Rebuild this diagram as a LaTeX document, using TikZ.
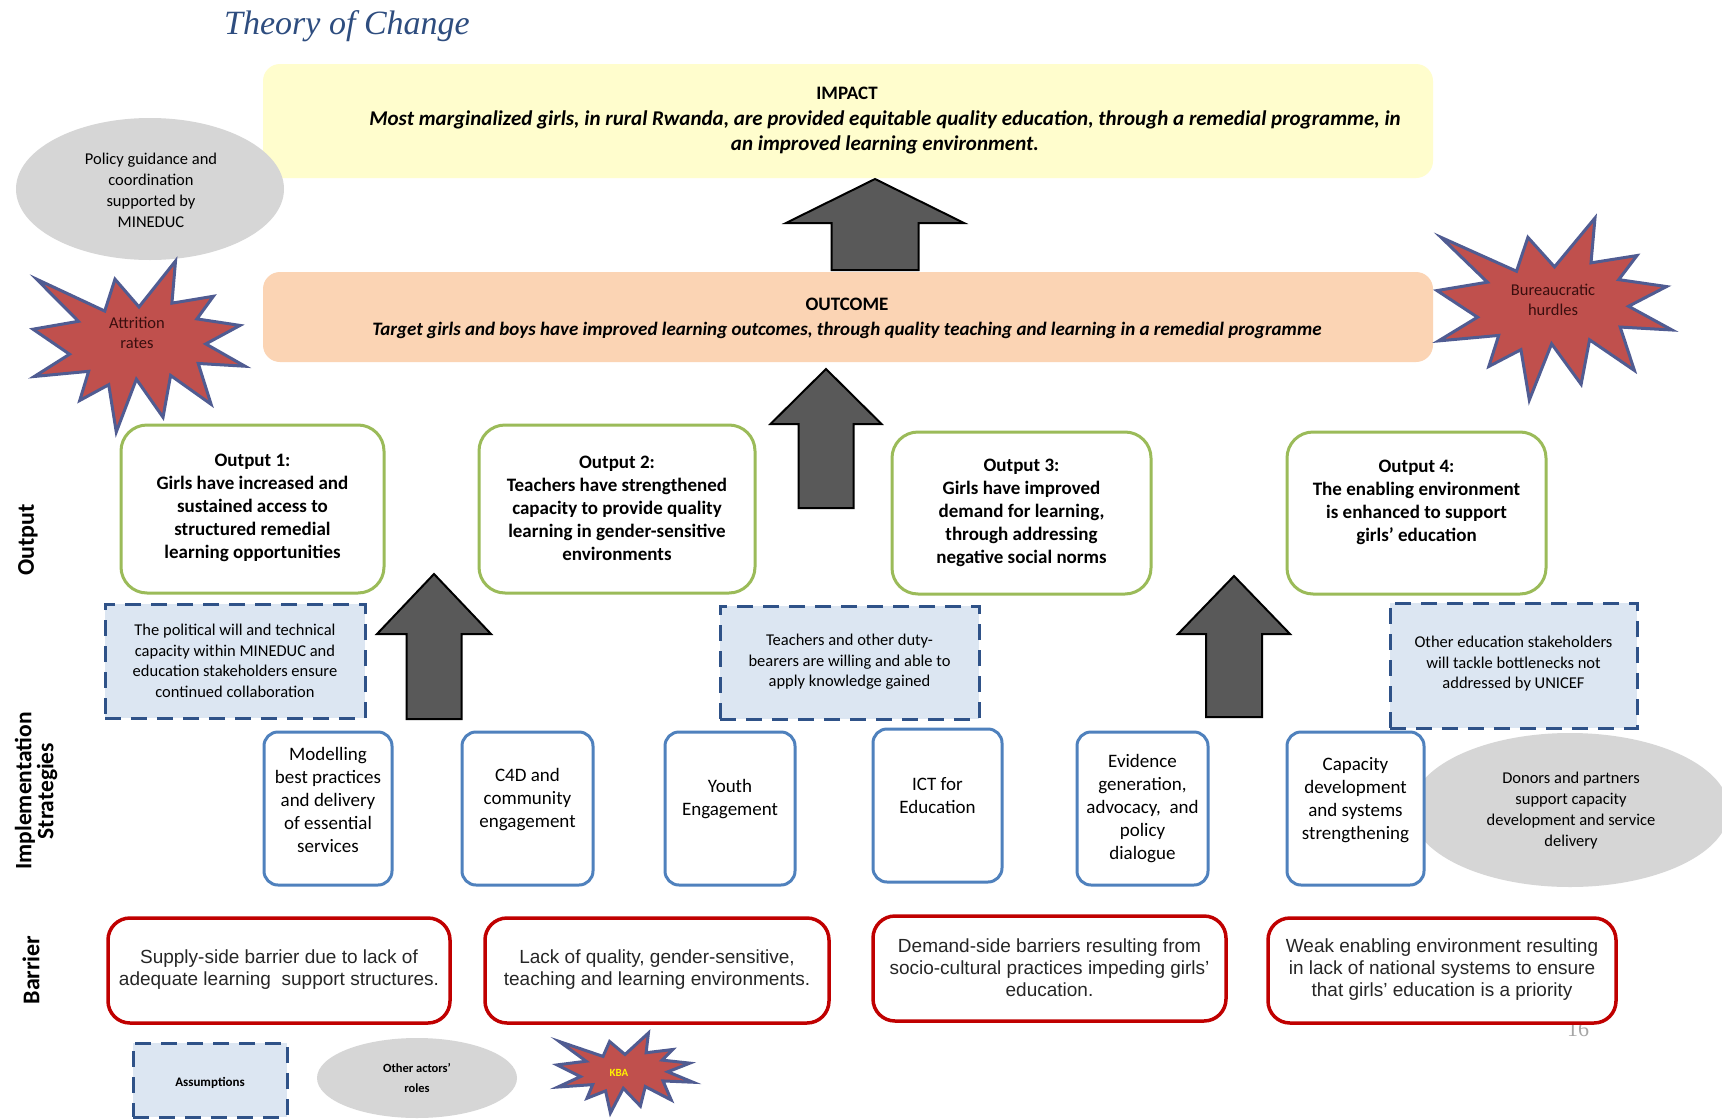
\documentclass[tikz,border=0pt]{standalone}
\usepackage{fontspec}
\setmainfont{Carlito}
\newfontfamily\arialfont{Liberation Sans}
\newfontfamily\titlefont{Liberation Serif}
\usetikzlibrary{shapes.geometric}

\definecolor{titleblue}{HTML}{2E4D7F}
\definecolor{impactfill}{HTML}{FFFDCD}
\definecolor{outcomefill}{HTML}{FBD4B4}
\definecolor{outputline}{HTML}{9BBB59}
\definecolor{strategyline}{HTML}{4F81BD}
\definecolor{assumfill}{HTML}{DCE6F2}
\definecolor{assumline}{HTML}{2F5288}
\definecolor{actorfill}{HTML}{D6D6D6}
\definecolor{barrierline}{HTML}{C00000}
\definecolor{barriertext}{HTML}{262626}
\definecolor{burstfill}{HTML}{C0504D}
\definecolor{burstline}{HTML}{505C92}
\definecolor{bursttext}{HTML}{3A0E0E}
\definecolor{arrowfill}{HTML}{595959}
\definecolor{pagegrey}{HTML}{A6A6A6}

% explosion-style starburst fitted into the box (x0,y0)-(x0+w,y0+h)
\newcommand\burstshape[4]{%
  \begin{scope}[shift={(#1,#2)}, xscale=#3/100, yscale=#4/100]
    \draw[burst] (50,26.85) -- (67.23,0) -- (65.53,24.65) -- (85.09,20.63)
      -- (77.32,33.86) -- (97.67,37.67) -- (81.51,48.50) -- (100,61.53)
      -- (77.95,59.92) -- (84.00,83.77) -- (64.91,66.93) -- (61.33,91.38)
      -- (48.76,69.14) -- (39.28,100) -- (35.72,72.35) -- (22.05,81.56)
      -- (26.24,64.52) -- (0.63,67.53) -- (17.23,54.51) -- (0,39.88)
      -- (21.42,35.26) -- (1.71,10.63) -- (33.85,29.26) -- (38.67,10.63) -- cycle;
  \end{scope}}

% upward block arrow: centre x, tip y, head base y, head half width, shaft half width, bottom y
\newcommand\blockup[6]{%
  \draw[blockarrow] (#1,#2) -- (#1+#4,#3) -- (#1+#5,#3) -- (#1+#5,#6)
    -- (#1-#5,#6) -- (#1-#5,#3) -- (#1-#4,#3) -- cycle;}

\begin{document}
\begin{tikzpicture}[x=1pt,y=-1pt,
  every node/.style={inner sep=0pt, outer sep=0pt},
  levelbox/.style={rounded corners=17pt, draw=none, minimum width=1170pt},
  outbox/.style={draw=outputline, line width=3pt, fill=white, rounded corners=26pt},
  stratbox/.style={draw=strategyline, line width=3pt, fill=white, rounded corners=14pt},
  assumbox/.style={draw=assumline, line width=3pt, fill=assumfill,
    dash pattern=on 16pt off 10pt},
  barbox/.style={draw=barrierline, line width=3.5pt, fill=white, rounded corners=22pt},
  actor/.style={ellipse, fill=actorfill, draw=none},
  burst/.style={fill=burstfill, draw=burstline, line width=3pt, line join=miter},
  blockarrow/.style={fill=arrowfill, draw=black, line width=2pt, line join=miter},
  outtext/.style={align=center, font=\bfseries\fontsize{19}{23}\selectfont},
  strattext/.style={align=center, font=\fontsize{19}{23}\selectfont},
  assumtext/.style={align=center, font=\fontsize{16.5}{20.5}\selectfont},
  actortext/.style={align=center, font=\fontsize{16.5}{21}\selectfont},
  bartext/.style={align=center, text=barriertext, font=\arialfont\fontsize{19}{22}\selectfont},
  sidelabel/.style={rotate=90, align=center, font=\bfseries\fontsize{24}{24}\selectfont},
  bursttxt/.style={align=center, text=bursttext, font=\fontsize{16.5}{20.5}\selectfont}
]
\useasboundingbox (0,0) rectangle (1722,1119);
\fill[white] (0,0) rectangle (1722,1119);

% title
\node[anchor=base, text=titleblue, font=\titlefont\itshape\fontsize{34}{40}\selectfont]
  (title) at (347,34) {Theory of Change};

% impact and outcome levels
\node[levelbox, fill=impactfill, minimum height=114pt] (impact) at (848,121) {};
\node[font=\bfseries\fontsize{19}{23}\selectfont] (impactT) at (847,93) {IMPACT};
\node[align=center, font=\bfseries\itshape\fontsize{21}{25}\selectfont] (impactB) at (885,132)
  {Most marginalized girls, in rural Rwanda, are provided equitable quality education, through a remedial programme, in\\
   an improved learning environment.};

\node[levelbox, fill=outcomefill, minimum height=90pt] (outcome) at (848,317) {};
\node[font=\bfseries\fontsize{19}{23}\selectfont] (outcomeT) at (847,304) {OUTCOME};
\node[font=\bfseries\itshape\fontsize{19}{22}\selectfont] (outcomeB) at (847,330)
  {Target girls and boys have improved learning outcomes, through quality teaching and learning in a remedial programme};

% other actors
\node[actor, minimum width=268pt, minimum height=142pt] (policy) at (150,189) {};
\node[actortext] (policyT) at (151,190) {Policy guidance and\\coordination\\supported by\\MINEDUC};

% risks
\burstshape{33}{261}{212}{171}
\node[bursttxt] (attrition) at (137,333) {Attrition\\rates};
\burstshape{1437}{218}{235}{182}
\node[bursttxt] (bureau) at (1553,300) {Bureaucratic\\hurdles};

% block arrows between levels
\blockup{875}{179}{223}{89}{43.5}{270}
\blockup{826}{369}{424}{55.5}{27.5}{508}
\blockup{434}{574}{634}{57}{27.5}{719}
\blockup{1234}{576}{634}{56}{28}{717}

% outputs
\node[outbox, minimum width=263pt, minimum height=168pt] (o1) at (252.5,509) {};
\node[outtext] (o1t) at (252.5,508) {Output 1:\\Girls have increased and\\sustained access to\\structured remedial\\learning opportunities};
\node[outbox, minimum width=276pt, minimum height=168pt] (o2) at (617,509) {};
\node[outtext] (o2t) at (617,508) {Output 2:\\Teachers have strengthened\\capacity to provide quality\\learning in gender-sensitive\\environments};
\node[outbox, minimum width=259pt, minimum height=162pt] (o3) at (1021.5,513) {};
\node[outtext] (o3t) at (1021.5,513) {Output 3:\\Girls have improved\\demand for learning,\\through addressing\\negative social norms};
\node[outbox, minimum width=259pt, minimum height=162pt] (o4) at (1416.5,513) {};
\node[outtext] (o4t) at (1416.5,502) {Output 4:\\The enabling environment\\is enhanced to support\\girls’ education};

% assumptions
\node[assumbox, minimum width=260pt, minimum height=114pt] (a1) at (235,661) {};
\node[assumtext] (a1t) at (235,661) {The political will and technical\\capacity within MINEDUC and\\education stakeholders ensure\\continued collaboration};
\node[assumbox, minimum width=259pt, minimum height=113pt] (a2) at (849.5,662.5) {};
\node[assumtext] (a2t) at (849.5,662) {Teachers and other duty-\\bearers are willing and able to\\apply knowledge gained};
\node[assumbox, minimum width=247pt, minimum height=125pt] (a3) at (1513.5,665.5) {};
\node[assumtext] (a3t) at (1513.5,664) {Other education stakeholders\\will tackle bottlenecks not\\addressed by UNICEF};

% donors and partners
\node[actor, minimum width=318pt, minimum height=154pt] (donors) at (1570,810) {};

% implementation strategies
\node[stratbox, minimum width=128pt, minimum height=153pt] (s1) at (328,808.5) {};
\node[strattext] (s1t) at (328,800) {Modelling\\best practices\\and delivery\\of essential\\services};
\node[stratbox, minimum width=131pt, minimum height=153pt] (s2) at (527.5,808.5) {};
\node[strattext] (s2t) at (527.5,800) {C4D and\\community\\engagement};
\node[stratbox, minimum width=130pt, minimum height=153pt] (s3) at (730,808.5) {};
\node[strattext] (s3t) at (730,799) {Youth\\Engagement};
\node[stratbox, minimum width=129pt, minimum height=153pt] (s4) at (937.5,805.5) {};
\node[strattext] (s4t) at (937.5,796) {ICT for\\Education};
\node[stratbox, minimum width=131pt, minimum height=153pt] (s5) at (1142.5,808.5) {};
\node[strattext] (s5t) at (1142.5,809) {Evidence\\generation,\\advocacy,\ \ and\\policy\\dialogue};
\node[stratbox, minimum width=137pt, minimum height=153pt] (s6) at (1355.5,808.5) {};
\node[strattext] (s6t) at (1355.5,800) {Capacity\\development\\and systems\\strengthening};
\node[actortext] (donorsT) at (1571,811) {Donors and partners\\support capacity\\development and service\\delivery};

% page number
\node[text=pagegrey, font=\titlefont\fontsize{22}{22}\selectfont] (page) at (1578,1029) {16};

% barriers
\node[barbox, minimum width=342pt, minimum height=105pt] (b1) at (279,970.5) {};
\node[bartext] (b1t) at (279,970) {Supply-side barrier due to lack of\\adequate learning\ \ support structures.};
\node[barbox, minimum width=344pt, minimum height=105pt] (b2) at (657,970.5) {};
\node[bartext] (b2t) at (657,970) {Lack of quality, gender-sensitive,\\teaching and learning environments.};
\node[barbox, minimum width=353pt, minimum height=105pt] (b3) at (1049.5,968.5) {};
\node[bartext] (b3t) at (1049.5,968) {Demand-side barriers resulting from\\socio-cultural practices impeding girls’\\education.};
\node[barbox, minimum width=348pt, minimum height=105pt] (b4) at (1442,970.5) {};
\node[bartext] (b4t) at (1442,970) {Weak enabling environment resulting\\in lack of national systems to ensure\\that girls’ education is a priority};

% row labels
\node[sidelabel] (lblOutput) at (28,540) {Output};
\node[sidelabel, font=\bfseries\fontsize{23.5}{22}\selectfont] (lblStrat) at (36,791) {Implementation\\Strategies};
\node[sidelabel] (lblBarrier) at (31,970) {Barrier};

% legend
\node[assumbox, minimum width=154pt, minimum height=74pt] (legA) at (210,1080) {};
\node[font=\bfseries\fontsize{13}{16}\selectfont] (legAt) at (210,1083) {Assumptions};
\node[actor, minimum width=200pt, minimum height=80pt] (legO) at (417,1078) {};
\node[align=center, font=\bfseries\fontsize{12.5}{20}\selectfont] (legOt) at (417,1078) {Other actors’\\roles};
\burstshape{557}{1033}{136}{80}
\node[text=yellow, font=\bfseries\fontsize{11}{11}\selectfont] (legK) at (619,1073) {KBA};
\end{tikzpicture}
\end{document}
